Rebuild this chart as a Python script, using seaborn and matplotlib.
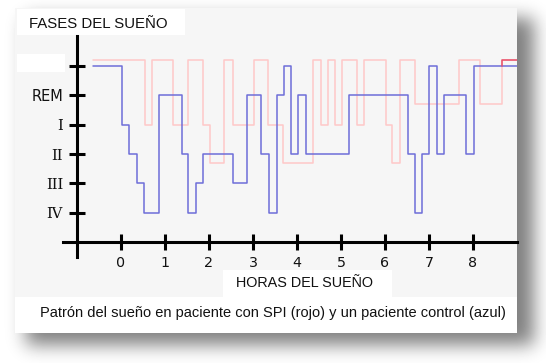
import numpy as np
import pandas as pd
import matplotlib
matplotlib.use("Agg")
import matplotlib.pyplot as plt
import seaborn as sns
from matplotlib.patches import Rectangle

# --- datos ---
horas_control = [-0.63, 0.03, 0.19, 0.37, 0.53, 0.86, 1.38, 1.53, 1.70, 1.86,
                 2.54, 2.87, 3.18, 3.36, 3.54, 3.70, 3.86, 4.03, 4.20, 5.18,
                 6.52, 6.68, 6.85, 7.01, 7.19, 7.35, 7.84, 8.02, 9.0]
fase_control = [6, 4, 3, 2, 1, 5, 3, 1, 2, 3,
                2, 5, 3, 1, 5, 6, 3, 5, 3, 5,
                3, 1, 3, 6, 3, 5, 3, 6, 6]

horas_spi = [-0.63, 0.545, 0.70, 1.19, 1.53, 1.86, 2.02, 2.35, 2.54, 3.02,
             3.35, 3.69, 4.36, 4.54, 4.70, 4.86, 5.03, 5.36, 5.52, 6.02,
             6.17, 6.34, 6.68, 7.68, 8.17, 8.67, 9.0]
fase_spi = [6.2, 4, 6.2, 4, 6.2, 4, 2.7, 6.2, 4, 6.2,
            4, 2.7, 6.2, 4, 6.2, 4, 6.2, 4, 6.2, 4,
            2.7, 6.2, 4.7, 6.2, 4.7, 6.2, 6.2]

ticks_horas = [0, 1, 2, 3, 4, 5, 6, 7, 8]
ticks_fases = [1, 2, 3, 4, 5, 6]
etiquetas_fases = ["IV", "III", "II", "I", "REM", ""]

df_control = pd.DataFrame({"hora": horas_control, "fase": fase_control})
df_spi = pd.DataFrame({"hora": horas_spi, "fase": fase_spi})

sns.set_theme(style="white")
plt.rcParams["font.family"] = ["Liberation Sans", "DejaVu Sans"]

W, H = 546, 363
fig = plt.figure(figsize=(W / 100, H / 100), dpi=100)
fig.patch.set_facecolor("white")

# --- fondo: tarjeta con sombra ---
bg = fig.add_axes([0, 0, 1, 1])
bg.set_xlim(0, W)
bg.set_ylim(H, 0)
bg.axis("off")

mask = np.zeros((H, W))
mask[18:345, 26:534] = 1.0
sig = 9.0
k = np.arange(-30, 31)
kern = np.exp(-k ** 2 / (2 * sig ** 2))
kern /= kern.sum()
mask = np.apply_along_axis(lambda r: np.convolve(r, kern, mode="same"), 1, mask)
mask = np.apply_along_axis(lambda c: np.convolve(c, kern, mode="same"), 0, mask)
sombra = 1 - 0.5 * mask
bg.imshow(sombra, cmap="gray", vmin=0, vmax=1, extent=(0, W, H, 0),
          interpolation="bilinear", aspect="auto")

bg.add_patch(Rectangle((15, 8), 502, 325, fc="#f6f6f6", ec="none"))
bg.add_patch(Rectangle((15, 297), 502, 36, fc="white", ec="none"))
bg.add_patch(Rectangle((17, 9), 168, 26, fc="white", ec="none"))
bg.add_patch(Rectangle((17, 54), 48, 18, fc="white", ec="none"))
bg.add_patch(Rectangle((223, 270), 169, 27, fc="white", ec="none"))

bg.text(29, 23.5, "FASES DEL SUEÑO", fontsize=10.8, va="center", ha="left",
        color="#111111")
bg.text(304, 283, "HORAS DEL SUEÑO", fontsize=10.4, va="center", ha="center",
        color="#111111")
bg.text(40, 313, "Patrón del sueño en paciente con SPI (rojo) y un paciente control (azul)",
        fontsize=10.5, va="center", ha="left", color="#111111")

# --- gráfico principal ---
x0, x1 = -1.32, 9.0
y0, y1 = -0.5, 7.0
px_l, px_r = 62.9, 517.0
px_t, px_b = 36.3, 257.0
ax = fig.add_axes([px_l / W, 1 - px_b / H, (px_r - px_l) / W, (px_b - px_t) / H])
ax.patch.set_visible(False)

sns.lineplot(data=df_spi, x="hora", y="fase", drawstyle="steps-post",
             color="#ffc8c8", linewidth=1.1, ax=ax)
sns.lineplot(data=df_control, x="hora", y="fase", drawstyle="steps-post",
             color="#6e6ed8", linewidth=1.1, ax=ax)
# último tramo del SPI más intenso
ax.plot([horas_spi[-2], horas_spi[-2], horas_spi[-1]],
        [fase_control[-1], fase_spi[-2], fase_spi[-1]],
        color="#e8506a", linewidth=1.1)

ax.set_xlim(x0, x1)
ax.set_ylim(y0, y1)
for s in ["top", "right"]:
    ax.spines[s].set_visible(False)
ax.spines["left"].set_position(("data", -1))
ax.spines["bottom"].set_position(("data", 0))
for s in ["left", "bottom"]:
    ax.spines[s].set_linewidth(2.2)
    ax.spines[s].set_color("black")

ax.set_xticks(ticks_horas)
ax.set_xticklabels([str(t) for t in ticks_horas], fontfamily="DejaVu Sans",
                   fontsize=10.3, color="#111111")
ax.set_yticks(ticks_fases)
ax.set_yticklabels(etiquetas_fases, fontsize=10.5, color="#111111",
                   fontfamily="DejaVu Sans")
for lab in ax.get_yticklabels():
    if lab.get_text() != "REM":
        lab.set_fontfamily("DejaVu Serif")
ax.tick_params(bottom=True, left=True, direction="inout", length=12, width=2.2,
               color="black", pad=4)
ax.set_xlabel("")
ax.set_ylabel("")

fig.savefig("out.png", dpi=100)
